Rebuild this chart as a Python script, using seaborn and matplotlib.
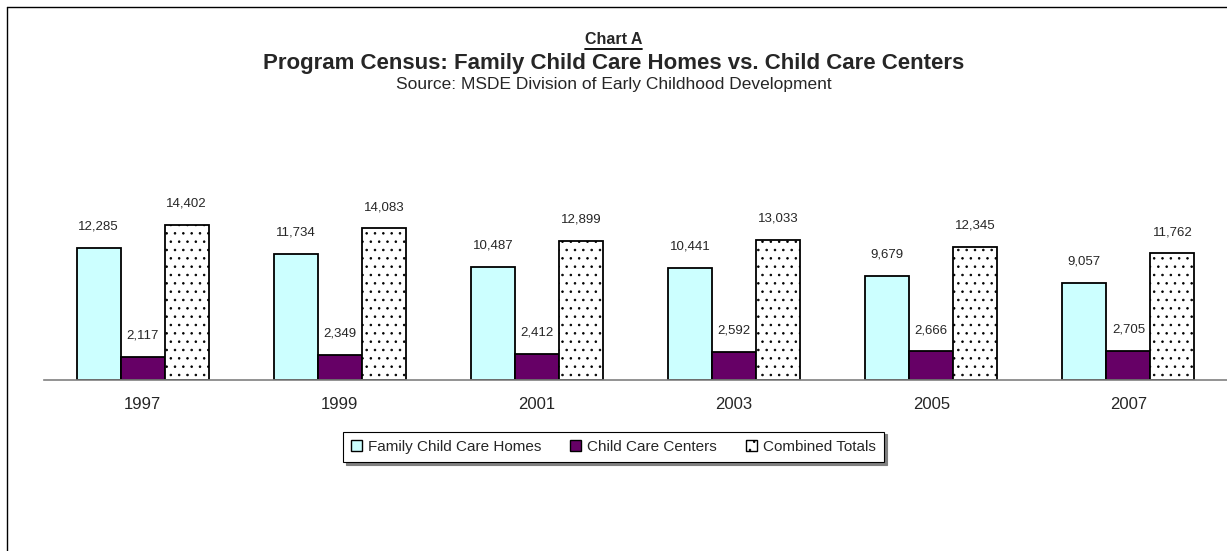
import matplotlib
matplotlib.use("Agg")
import matplotlib.pyplot as plt
import numpy as np
import pandas as pd
import seaborn as sns
from matplotlib.lines import Line2D

years = ["1997", "1999", "2001", "2003", "2005", "2007"]
family_homes = [12285, 11734, 10487, 10441, 9679, 9057]
care_centers = [2117, 2349, 2412, 2592, 2666, 2705]
combined_totals = [14402, 14083, 12899, 13033, 12345, 11762]
series_names = ["Family Child Care Homes", "Child Care Centers", "Combined Totals"]
colors = ["#CCFFFF", "#660066", "#FFFFFF"]

df = pd.DataFrame({
    "year": years * 3,
    "series": np.repeat(series_names, len(years)),
    "value": family_homes + care_centers + combined_totals,
})

sns.set_style("white")
plt.rcParams["font.family"] = ["Liberation Sans", "DejaVu Sans"]
plt.rcParams["hatch.linewidth"] = 0.6
plt.rcParams["hatch.color"] = "#333333"

W, H = 1227, 551
fig = plt.figure(figsize=(W / 100, H / 100), dpi=100)

ymax = 24000
px_per_unit = 155 / 14402
ax_h = ymax * px_per_unit
ax_bottom = 380
ax = fig.add_axes([44 / W, 1 - ax_bottom / H, (W - 44) / W, ax_h / H])

sns.barplot(data=df, x="year", y="value", hue="series", palette=colors,
            width=0.67, edgecolor="black", linewidth=1.3, saturation=1,
            ax=ax, legend=True)

for bar in ax.containers[2]:
    bar.set_hatch("..")

for cont in ax.containers:
    for bar in cont:
        h = bar.get_height()
        ax.annotate(f"{h:,.0f}", (bar.get_x() + bar.get_width() / 2, h),
                    xytext=(0, 11), textcoords="offset points",
                    ha="center", va="bottom", fontsize=9.5)

ax.set_ylim(0, ymax)
ax.set_xlim(-0.5, len(years) - 0.5)
ax.set_xlabel("")
ax.set_ylabel("")
ax.set_yticks([])
for s in ["top", "right", "left"]:
    ax.spines[s].set_visible(False)
ax.spines["bottom"].set_color("#808080")
ax.spines["bottom"].set_linewidth(1.2)
ax.set_xticks(np.arange(-0.5, len(years)), minor=True)
ax.tick_params(axis="x", which="minor", length=4, color="#808080", direction="out")
ax.tick_params(axis="x", which="major", length=0, labelsize=12, pad=12)

ax.get_legend().remove()
handles = [plt.Rectangle((0, 0), 1, 1, facecolor=c, edgecolor="black", linewidth=1,
                         hatch=".." if i == 2 else None)
           for i, c in enumerate(colors)]
leg = fig.legend(handles, series_names, loc="center", ncol=3,
                 bbox_to_anchor=(613.5 / W, 1 - 447 / H), fontsize=11,
                 frameon=True, fancybox=False, edgecolor="black",
                 handlelength=0.7, handleheight=0.7, handletextpad=0.4,
                 columnspacing=1.9, borderpad=0.55,
                 shadow={"color": "#808080", "alpha": 1})
leg.get_frame().set_linewidth(0.8)

t1 = fig.text(0.5, 1 - 40 / H, "Chart A", ha="center", va="center",
              fontsize=11.5, fontweight="bold")
fig.text(0.5, 1 - 63 / H,
         "Program Census: Family Child Care Homes vs. Child Care Centers",
         ha="center", va="center", fontsize=16, fontweight="bold")
fig.text(0.5, 1 - 84 / H, "Source: MSDE Division of Early Childhood Development",
         ha="center", va="center", fontsize=12.5)

fig.canvas.draw()
bb = t1.get_window_extent()
fig.add_artist(Line2D([bb.x0 / W, bb.x1 / W], [(bb.y0 - 1) / H] * 2,
                      color="black", linewidth=1.3))

# outer frame (left and top edges)
fig.add_artist(Line2D([7 / W, 7 / W], [0, 1 - 7 / H], color="black", linewidth=1))
fig.add_artist(Line2D([7 / W, 1], [1 - 7 / H, 1 - 7 / H], color="black", linewidth=1))

fig.savefig("out.png", dpi=100)
